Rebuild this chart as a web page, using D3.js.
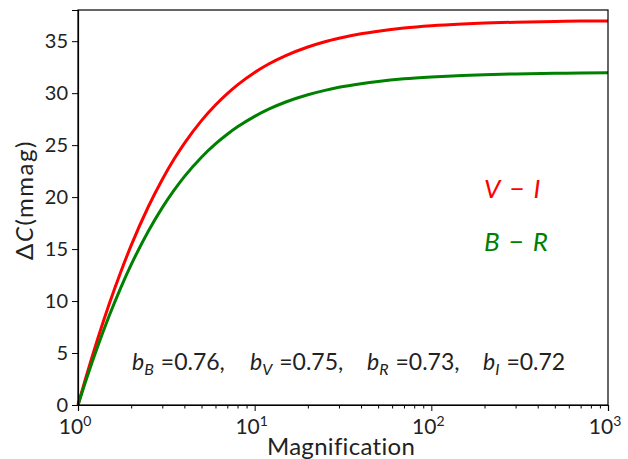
<!DOCTYPE html>
<html>
<head>
<meta charset="utf-8">
<script src="https://cdn.jsdelivr.net/npm/d3@7"></script>
<style>
  html, body { margin: 0; padding: 0; background: #fff; }
  svg { display: block; }
  text { font-family: Lato, "DejaVu Sans", sans-serif; fill: #222; }
</style>
</head>
<body>
<svg id="chart" width="628" height="459"></svg>
<script>
// Magnification samples (log axis)
const magnification = [1, 1.1, 1.2, 1.3, 1.5, 1.75, 2, 2.5, 3, 3.5, 4, 5, 6, 7, 8, 10, 12, 15, 20, 25, 30, 40, 50, 70, 100, 150, 200, 300, 500, 700, 1000];
// Colour change in mmag for V-I
const deltaVI = [0, 2.45, 4.60, 6.49, 9.69, 12.85, 15.35, 19.07, 21.70, 23.66, 25.17, 27.36, 28.86, 29.96, 30.80, 31.99, 32.80, 33.61, 34.44, 34.95, 35.28, 35.71, 35.96, 36.26, 36.48, 36.65, 36.74, 36.83, 36.90, 36.93, 36.95];
// Colour change in mmag for B-R
const deltaBR = [0, 2.18, 4.08, 5.75, 8.56, 11.32, 13.50, 16.72, 18.99, 20.67, 21.97, 23.84, 25.12, 26.05, 26.76, 27.77, 28.46, 29.15, 29.85, 30.27, 30.56, 30.91, 31.13, 31.38, 31.56, 31.71, 31.78, 31.85, 31.91, 31.94, 31.96];
const yTicks = [0, 5, 10, 15, 20, 25, 30, 35];
const xTicks = [1, 10, 100, 1000];
const xTickExponents = ["0", "1", "2", "3"];
const blending = [["B", "0.76"], ["V", "0.75"], ["R", "0.73"], ["I", "0.72"]];

const svg = d3.select("#chart");
const m = { left: 78, right: 20, top: 10, bottom: 54 };
const W = 628, H = 459;

const x = d3.scaleLog().domain([1, 1000]).range([m.left, W - m.right]);
const y = d3.scaleLinear().domain([0, 38]).range([H - m.bottom, m.top]);

const line = d3.line().x(d => x(d[0])).y(d => y(d[1])).curve(d3.curveMonotoneX);

const series = [
  { vals: deltaVI, color: "#ff0000" },
  { vals: deltaBR, color: "#008000" }
];
series.forEach(s => {
  svg.append("path")
    .datum(magnification.map((a, i) => [a, s.vals[i]]))
    .attr("d", line)
    .attr("fill", "none")
    .attr("stroke", s.color)
    .attr("stroke-width", 3);
});

// Axes: major and minor ticks on the log axis
const minorTicks = [];
for (let d = 1; d < 1000; d *= 10) for (let k = 2; k <= 9; k++) minorTicks.push(d * k);

svg.append("g").attr("transform", `translate(0,${H - m.bottom})`)
  .call(d3.axisBottom(x).tickValues(xTicks).tickSize(6).tickFormat(""));
svg.append("g").attr("transform", `translate(0,${H - m.bottom})`)
  .call(d3.axisBottom(x).tickValues(minorTicks).tickSize(3.5).tickFormat(""))
  .call(g => g.select(".domain").remove());

xTicks.forEach((v, i) => {
  const t = svg.append("text")
    .attr("x", x(v) - 3)
    .attr("y", H - m.bottom + 29)
    .attr("text-anchor", "middle")
    .style("font-size", "21px");
  t.append("tspan").text("10");
  t.append("tspan").attr("dy", -8).style("font-size", "14px").text(xTickExponents[i]);
});

const yAxis = svg.append("g").attr("transform", `translate(${m.left},0)`)
  .call(d3.axisLeft(y).tickValues(yTicks).tickSize(6).tickPadding(4));
yAxis.selectAll("text").style("font-size", "20px").attr("fill", "#222").attr("dy", "0.34em");

svg.selectAll(".domain").attr("stroke", "#000").attr("stroke-width", 1.2);
svg.selectAll(".tick line").attr("stroke", "#000").attr("stroke-width", 1);

// Frame
svg.append("rect")
  .attr("x", m.left).attr("y", m.top)
  .attr("width", W - m.right - m.left).attr("height", H - m.bottom - m.top)
  .attr("fill", "none").attr("stroke", "#000").attr("stroke-width", 1.2);

// Axis labels
svg.append("text")
  .attr("x", 341)
  .attr("y", 455)
  .attr("text-anchor", "middle")
  .style("font-size", "24px")
  .style("letter-spacing", "0.3px")
  .text("Magnification");

const yl = svg.append("text")
  .attr("transform", `translate(33,200) rotate(-90)`)
  .attr("text-anchor", "middle")
  .style("font-size", "24px")
  .style("letter-spacing", "1.5px");
yl.append("tspan").text("Δ");
yl.append("tspan").style("font-style", "italic").text("C");
yl.append("tspan").text("(mmag)");

// Series labels
function colourLabel(a, b, color, baseline) {
  const t = svg.append("text").attr("x", 484).attr("y", baseline)
    .style("font-size", "26px").attr("fill", color);
  t.append("tspan").style("font-style", "italic").attr("fill", color).text(a);
  t.append("tspan").attr("dx", 9).attr("fill", color).text("−");
  t.append("tspan").attr("dx", 9).style("font-style", "italic").attr("fill", color).text(b);
}
colourLabel("V", "I", "#ff0000", 198);
colourLabel("B", "R", "#008000", 251);

// Blending parameters, one group per band
const bandX = [132, 250, 367, 483];
blending.forEach((b, i) => {
  const t = svg.append("text").attr("x", bandX[i]).attr("y", 370).style("font-size", "23px");
  t.append("tspan").style("font-style", "italic").text("b");
  t.append("tspan").attr("dy", 5).style("font-size", "16px").style("font-style", "italic").text(b[0]);
  t.append("tspan").attr("dy", -5).attr("dx", 7).text("=" + b[1] + (i < blending.length - 1 ? "," : ""));
});
</script>
</body>
</html>
